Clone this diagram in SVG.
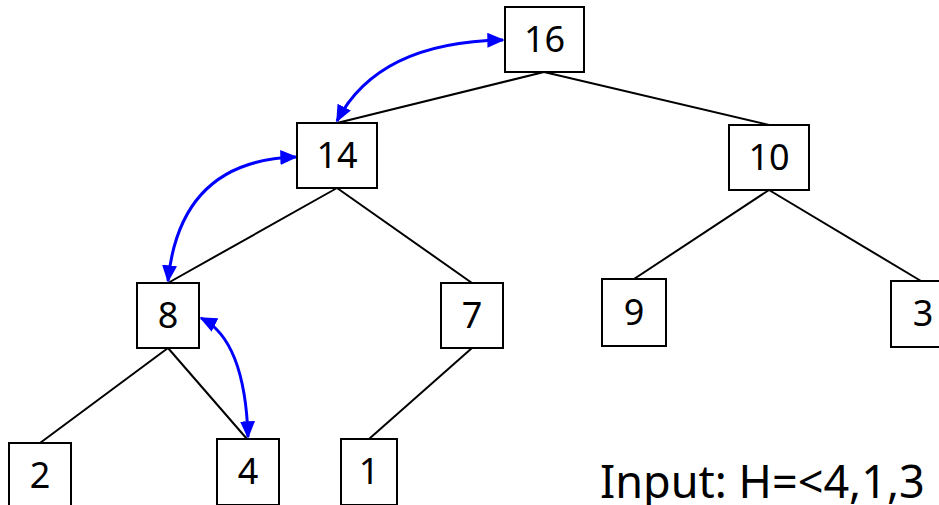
<svg xmlns="http://www.w3.org/2000/svg" width="939" height="505" viewBox="0 0 939 505">
<style>
.box{fill:#fff;stroke:#000;stroke-width:2}
.edge{stroke:#000;stroke-width:2;fill:none}
.swap{stroke:#0000ff;stroke-width:3;fill:none;marker-start:url(#ah);marker-end:url(#ah)}
.lbl{font-family:"Comic Sans MS","Noto Sans","DejaVu Sans",sans-serif;font-size:36px;text-anchor:middle;fill:#000}
.note{font-family:"Comic Sans MS","Noto Sans","DejaVu Sans",sans-serif;font-size:45px;fill:#000}
</style>
<defs>
<marker id="ah" viewBox="0 0 10 10" refX="9" refY="5" markerWidth="5.8" markerHeight="5" orient="auto-start-reverse" markerUnits="strokeWidth" preserveAspectRatio="none">
<path d="M0,0 L10,5 L0,10 Z" fill="#0000ff"/>
</marker>
</defs>
<rect width="939" height="505" fill="#fff"/>
<g id="connectors">
<line class="edge" x1="544" y1="72" x2="337" y2="123"/>
<line class="edge" x1="544" y1="72" x2="769" y2="125"/>
<line class="edge" x1="337" y1="188" x2="168" y2="283"/>
<line class="edge" x1="337" y1="188" x2="472" y2="283"/>
<line class="edge" x1="769" y1="190" x2="634" y2="279"/>
<line class="edge" x1="769" y1="190" x2="921" y2="281"/>
<line class="edge" x1="168" y1="348" x2="40" y2="443"/>
<line class="edge" x1="168" y1="348" x2="247" y2="439"/>
<line class="edge" x1="472" y1="348" x2="369" y2="439"/>
<path class="swap" d="M337,121 Q378,42 503,40"/>
<path class="swap" d="M296,157 Q180,160 168,281"/>
<path class="swap" d="M201,318 Q245,340 248,437"/>
</g>
<g id="n16"><rect class="box" x="505" y="7" width="79" height="65"/><text class="lbl" x="544.5" y="52">16</text></g>
<g id="n14"><rect class="box" x="297" y="123" width="80" height="65"/><text class="lbl" x="337" y="168">14</text></g>
<g id="n10"><rect class="box" x="729" y="125" width="80" height="65"/><text class="lbl" x="769" y="170">10</text></g>
<g id="n8"><rect class="box" x="137" y="283" width="62" height="65"/><text class="lbl" x="168" y="328">8</text></g>
<g id="n7"><rect class="box" x="441" y="283" width="62" height="65"/><text class="lbl" x="472" y="328">7</text></g>
<g id="n9"><rect class="box" x="602" y="279" width="64" height="67"/><text class="lbl" x="634" y="325">9</text></g>
<g id="n3"><rect class="box" x="891" y="281" width="64" height="66"/><text class="lbl" x="923" y="326">3</text></g>
<g id="n2"><rect class="box" x="9" y="443" width="62" height="66"/><text class="lbl" x="40" y="488">2</text></g>
<g id="n4"><rect class="box" x="217" y="439" width="62" height="66"/><text class="lbl" x="248" y="484">4</text></g>
<g id="n1"><rect class="box" x="341" y="439" width="56" height="66"/><text class="lbl" x="369" y="484">1</text></g>
<text class="note" x="600" y="498">Input: H=&lt;4,1,3</text>
</svg>
